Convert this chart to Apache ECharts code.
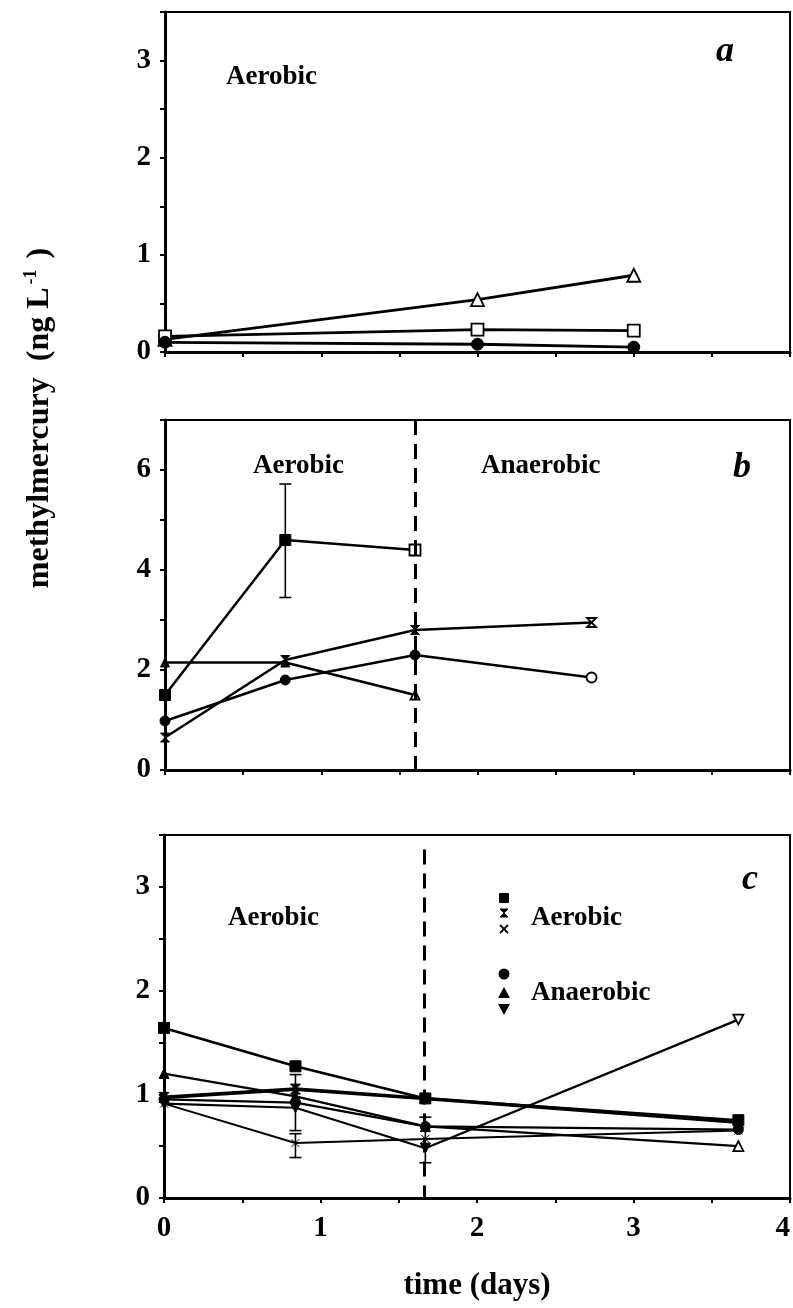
<!DOCTYPE html>
<html>
<head>
<meta charset="utf-8">
<script src="https://cdn.jsdelivr.net/npm/echarts@6/dist/echarts.min.js"></script>
<style>
  html, body { margin: 0; padding: 0; background: #fff; }
  #chart { width: 793px; height: 1308px; }
</style>
</head>
<body>
<div id="chart"></div>
<script>
// ---- Panel a: aerobic incubation ----
const aDays = [0, 2, 3];
const aTriangle = [0.13, 0.54, 0.79];
const aSquare = [0.16, 0.23, 0.22];
const aCircle = [0.10, 0.08, 0.05];

// ---- Panel b: aerobic then anaerobic ----
const bDaysShort = [0, 0.77, 1.6];
const bDaysLong = [0, 0.77, 1.6, 2.73];
const bSquare = [1.5, 4.6, 4.4];
const bHourglass = [0.65, 2.2, 2.8, 2.95];
const bTriangle = [2.15, 2.15, 1.5];
const bCircle = [0.98, 1.8, 2.3, 1.85];
const bSwitchDay = 1.6;
const bSwitchTop = 7;
const bErrors = [[0.77, 3.45, 5.72]];

// ---- Panel c: aerobic and anaerobic treatments ----
const cDays = [0, 0.84, 1.67, 3.67];
const cSquare = [1.64, 1.27, 0.96, 0.75];
const cHourglass = [0.97, 1.05, 0.96, 0.73];
const cCross = [0.91, 0.53, 0.57, 0.65];
const cCircle = [0.95, 0.92, 0.69, 0.66];
const cTriangle = [1.2, 0.98, 0.69, 0.5];
const cInvTriangle = [0.91, 0.87, 0.48, 1.72];
const cSwitchDay = 1.66;
const cSwitchTop = 3.36;
const cErrors = [[0.84, 0.65, 1.19], [0.84, 0.39, 0.62], [1.67, 0.34, 0.78]];

// axis tick labels
const xTickLabels = ['0', '1', '2', '3', '4'];
const aYLabels = ['0', '1', '2', '3'];
const bYLabels = ['0', '2', '4', '6'];
const cYLabels = ['0', '1', '2', '3'];

const FONT = '"Liberation Serif", "DejaVu Serif", serif';
const HOURGLASS = 'path://M0,0H10L0,10H10Z';
const CROSS = 'path://M0,0L10,10M10,0L0,10';

function pts(xs, ys, hollowIdx) {
  return ys.map((y, i) => {
    const hollow = hollowIdx.indexOf(i) >= 0;
    return {
      value: [xs[i], y],
      itemStyle: hollow ? { color: '#fff', borderColor: '#000', borderWidth: 1.8 }
                        : { color: '#000', borderColor: '#000', borderWidth: 1 }
    };
  });
}

function lineSeries(idx, xs, ys, symbol, size, hollowIdx, width, extra) {
  return Object.assign({
    type: 'line',
    xAxisIndex: idx, yAxisIndex: idx,
    data: pts(xs, ys, hollowIdx),
    symbol: symbol,
    symbolSize: size,
    showAllSymbol: true,
    lineStyle: { color: '#000', width: width || 2.5 },
    itemStyle: { color: '#000' },
    z: 3,
    animation: false
  }, extra || {});
}

function errorSeries(idx, rows) {
  return {
    type: 'custom',
    xAxisIndex: idx, yAxisIndex: idx,
    data: rows,
    z: 2,
    animation: false,
    renderItem: function (params, api) {
      const x = api.value(0);
      const lo = api.coord([x, api.value(1)]);
      const hi = api.coord([x, api.value(2)]);
      const w = 6;
      const st = { stroke: '#000', lineWidth: 1.6 };
      return {
        type: 'group',
        children: [
          { type: 'line', shape: { x1: lo[0], y1: lo[1], x2: hi[0], y2: hi[1] }, style: st },
          { type: 'line', shape: { x1: hi[0] - w, y1: hi[1], x2: hi[0] + w, y2: hi[1] }, style: st },
          { type: 'line', shape: { x1: lo[0] - w, y1: lo[1], x2: lo[0] + w, y2: lo[1] }, style: st }
        ]
      };
    }
  };
}

// dashed vertical line marking the switch from aerobic to anaerobic conditions
function switchLine(idx, day, top) {
  return {
    type: 'line',
    xAxisIndex: idx, yAxisIndex: idx,
    data: [],
    animation: false,
    markLine: {
      silent: true,
      symbol: 'none',
      animation: false,
      label: { show: false },
      lineStyle: { color: '#000', width: 3, type: [15, 9] },
      data: [[{ coord: [day, top] }, { coord: [day, 0] }]]
    }
  };
}

const grids = [
  { left: 165, top: 12, width: 625, height: 340 },
  { left: 165, top: 420, width: 625, height: 350 },
  { left: 164, top: 835, width: 626, height: 363 }
].map(g => Object.assign(g, {
  show: true, borderColor: '#000', borderWidth: 2, backgroundColor: 'transparent',
  containLabel: false, outerBoundsMode: 'none'
}));

const axisLine = { show: true, onZero: false, lineStyle: { color: '#000', width: 3 } };
const axisTick = { show: true, inside: false, length: 5, lineStyle: { color: '#000', width: 2 } };
const labelStyle = { color: '#000', fontFamily: FONT, fontWeight: 'bold', fontSize: 29 };

function labelFrom(list, step) {
  return function (v) {
    const k = Math.round(v / step);
    return Math.abs(k * step - v) < 1e-9 && list[k] !== undefined ? list[k] : '';
  };
}

function xAxis(idx, showLabels) {
  return {
    type: 'value', gridIndex: idx, min: 0, max: 4, interval: 0.5,
    axisLine: axisLine, axisTick: axisTick, splitLine: { show: false },
    axisLabel: Object.assign({
      show: showLabels, margin: 16, alignMaxLabel: 'right',
      formatter: labelFrom(xTickLabels, 1)
    }, labelStyle),
    name: showLabels ? 'time (days)' : '',
    nameLocation: 'middle', nameGap: 72,
    nameTextStyle: { color: '#000', fontFamily: FONT, fontWeight: 'bold', fontSize: 31 }
  };
}

function yAxis(idx, max, interval, labels, labelStep) {
  return {
    type: 'value', gridIndex: idx, min: 0, max: max, interval: interval,
    axisLine: axisLine, axisTick: axisTick, splitLine: { show: false },
    axisLabel: Object.assign({ margin: 14, formatter: labelFrom(labels, labelStep) }, labelStyle)
  };
}

const textStyle = (size, italic) => ({
  fill: '#000', font: (italic ? 'italic ' : '') + 'bold ' + size + 'px ' + FONT
});

function txt(x, y, s, size, italic, align) {
  return { type: 'text', x: x, y: y, style: Object.assign({ text: s, textAlign: align || 'left', textVerticalAlign: 'middle' }, textStyle(size, italic)) };
}

const chart = echarts.init(document.getElementById('chart'), null, { renderer: 'canvas' });

const option = {
  backgroundColor: '#fff',
  animation: false,
  grid: grids,
  xAxis: [xAxis(0, false), xAxis(1, false), xAxis(2, true)],
  yAxis: [yAxis(0, 3.5, 0.5, aYLabels, 1), yAxis(1, 7, 1, bYLabels, 2), yAxis(2, 3.5, 0.5, cYLabels, 1)],
  series: [
    // panel a
    lineSeries(0, aDays, aTriangle, 'triangle', 13, [0, 1, 2], 2.8),
    lineSeries(0, aDays, aSquare, 'rect', 12, [0, 1, 2], 2.8),
    lineSeries(0, aDays, aCircle, 'circle', 12, [], 2.8),
    // panel b
    switchLine(1, bSwitchDay, bSwitchTop),
    lineSeries(1, bDaysShort, bSquare, 'rect', 11, [2], 2.5),
    lineSeries(1, bDaysLong, bHourglass, HOURGLASS, 9, [3], 2.5),
    lineSeries(1, bDaysShort, bTriangle, 'triangle', 9, [2], 2.5),
    lineSeries(1, bDaysLong, bCircle, 'circle', 10, [3], 2.5),
    errorSeries(1, bErrors),
    // panel c
    switchLine(2, cSwitchDay, cSwitchTop),
    lineSeries(2, cDays, cSquare, 'rect', 11, [], 2.6),
    lineSeries(2, cDays, cHourglass, HOURGLASS, 10, [], 3.6),
    lineSeries(2, cDays, cCross, CROSS, 8, [], 2),
    lineSeries(2, cDays, cCircle, 'circle', 10, [], 2.2),
    lineSeries(2, cDays, cTriangle, 'triangle', 10, [3], 2.2),
    lineSeries(2, cDays, cInvTriangle, 'triangle', 10, [3], 2.2, { symbolRotate: 180 }),
    errorSeries(2, cErrors)
  ],
  graphic: [
    // panel a
    txt(226, 77, 'Aerobic', 27),
    txt(716, 52, 'a', 36, true),
    // panel b
    txt(253, 466, 'Aerobic', 27),
    txt(481, 466, 'Anaerobic', 27),
    txt(733, 468, 'b', 36, true),
    // panel c
    txt(228, 918, 'Aerobic', 27),
    txt(742, 880, 'c', 36, true),
    txt(531, 918, 'Aerobic', 27),
    txt(531, 993, 'Anaerobic', 27),
    { type: 'rect', shape: { x: 499, y: 893, width: 10, height: 10, r: 1 }, style: { fill: '#000' } },
    { type: 'polygon', shape: { points: [[500, 909], [508, 909], [500, 917], [508, 917]] }, style: { fill: '#000', stroke: '#000', lineWidth: 1 } },
    { type: 'line', shape: { x1: 500, y1: 925, x2: 508, y2: 933 }, style: { stroke: '#000', lineWidth: 1.8 } },
    { type: 'line', shape: { x1: 508, y1: 925, x2: 500, y2: 933 }, style: { stroke: '#000', lineWidth: 1.8 } },
    { type: 'circle', shape: { cx: 504, cy: 974, r: 5.5 }, style: { fill: '#000' } },
    { type: 'polygon', shape: { points: [[504, 987], [510, 998], [498, 998]] }, style: { fill: '#000' } },
    { type: 'polygon', shape: { points: [[498, 1004], [510, 1004], [504, 1015]] }, style: { fill: '#000' } },
    // shared y-axis title
    {
      type: 'text', x: 40, y: 418, rotation: Math.PI / 2,
      style: {
        text: '{n|methylmercury  (ng L}{s|-1}{n| )}',
        textAlign: 'center', textVerticalAlign: 'middle',
        rich: {
          n: { fontFamily: FONT, fontWeight: 'bold', fontSize: 32, fill: '#000' },
          s: { fontFamily: FONT, fontWeight: 'bold', fontSize: 18, fill: '#000', padding: [0, 3, 18, 3] }
        }
      }
    }
  ]
};

chart.setOption(option);
</script>
</body>
</html>
